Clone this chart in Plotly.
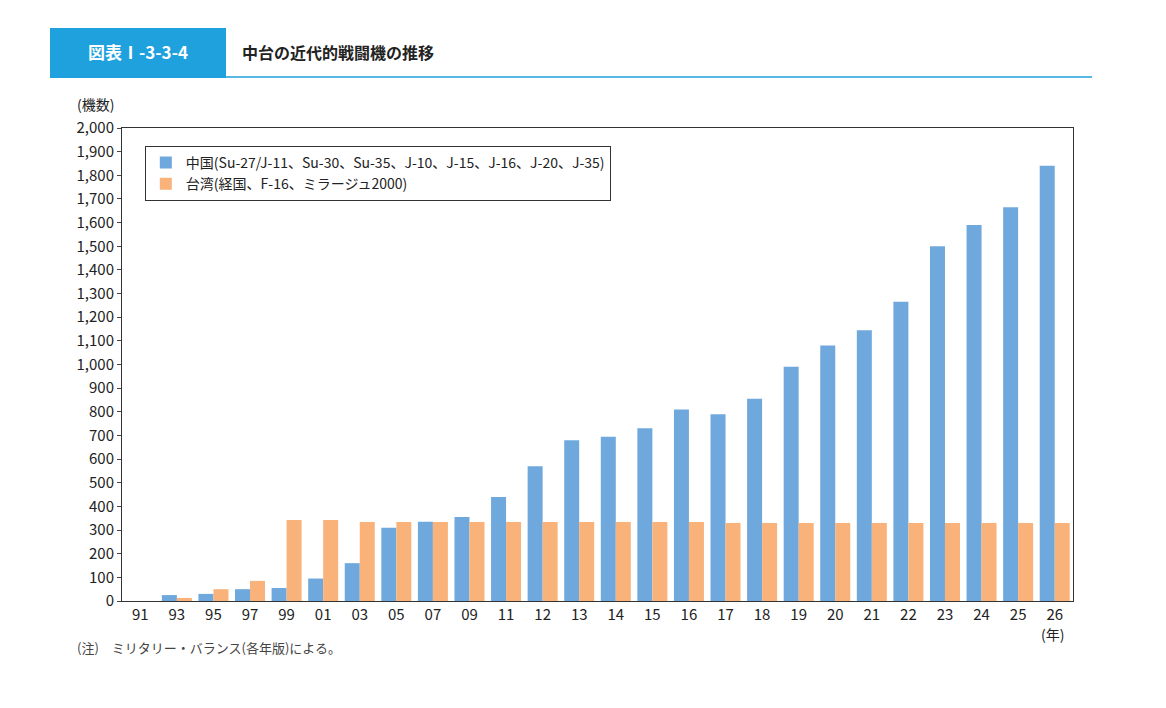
import plotly.graph_objects as go

years = ["91","93","95","97","99","01","03","05","07","09","11","12","13","14","15","16","17","18","19","20","21","22","23","24","25","26"]
china = [0,25,30,50,55,95,160,310,335,355,440,570,680,695,730,810,790,855,990,1080,1145,1265,1500,1590,1665,1840]
taiwan = [0,13,50,85,342,342,334,334,334,334,334,334,334,334,334,334,330,330,330,330,330,330,330,330,330,330]
y_ticks = list(range(0, 2001, 100))

F = "Noto Sans CJK JP"
L, B = 122, 107  # target plot-area left / bottom in screen pixels
def px(x): return (x - L) / 951
def py(y): return (708 - B - y) / 473

fig = go.Figure()
fig.add_bar(x=years, y=china, name="中国(Su-27/J-11、Su-30、Su-35、J-10、J-15、J-16、J-20、J-35)",
            marker=dict(color="#6fa8dc", line=dict(width=0)))
fig.add_bar(x=years, y=taiwan, name="台湾(経国、F-16、ミラージュ2000)",
            marker=dict(color="#f9b27a", line=dict(width=0)))

fig.update_layout(
    width=1166, height=708, paper_bgcolor="white", plot_bgcolor="white",
    font=dict(family=F, size=15, color="#222"),
    margin=dict(l=114, r=101, t=120, b=115),
    barmode="group", bargap=0.18, bargroupgap=0,
    showlegend=True,
    legend=dict(x=0.024, y=0.962, xanchor="left", yanchor="top", bgcolor="white",
                bordercolor="#333", borderwidth=1, font=dict(size=14, family=F),
                itemwidth=30, tracegroupgap=2),
    xaxis=dict(showline=True, linecolor="#333", mirror=True, ticks="", tickfont=dict(size=15)),
    yaxis=dict(range=[0, 2000], tickvals=y_ticks, ticktext=[f"{v:,}" for v in y_ticks],
               showline=True, linecolor="#333", mirror=True, ticks="outside", ticklen=4,
               showgrid=False, tickfont=dict(size=15)),
    shapes=[
        dict(type="rect", xref="paper", yref="paper", x0=px(50), x1=px(226),
             y0=py(78), y1=py(28), fillcolor="#1ea1dd", line=dict(width=0)),
        dict(type="line", xref="paper", yref="paper", x0=px(50), x1=px(1092),
             y0=py(77), y1=py(77), line=dict(color="#1ea1dd", width=1.5)),
    ],
    annotations=[
        dict(text="<b>図表Ⅰ-3-3-4</b>", xref="paper", yref="paper", x=px(138), y=py(52),
             xanchor="center", yanchor="middle", showarrow=False,
             font=dict(color="white", size=17, family=F)),
        dict(text="<b>中台の近代的戦闘機の推移</b>", xref="paper", yref="paper", x=px(240),
             y=py(52), xanchor="left", yanchor="middle", showarrow=False, font=dict(size=16, family=F)),
        dict(text="(機数)", xref="paper", yref="paper", x=px(75), y=py(104),
             xanchor="left", yanchor="middle", showarrow=False, font=dict(size=14, family=F)),
        dict(text="(年)", xref="paper", yref="paper", x=px(1052), y=py(634),
             xanchor="center", yanchor="middle", showarrow=False, font=dict(size=14, family=F)),
        dict(text="(注)　ミリタリー・バランス(各年版)による。", xref="paper", yref="paper",
             x=px(75), y=py(647), xanchor="left", yanchor="middle", showarrow=False,
             font=dict(size=13, family=F, color="#444")),
    ],
)
fig.write_html("out.html")
